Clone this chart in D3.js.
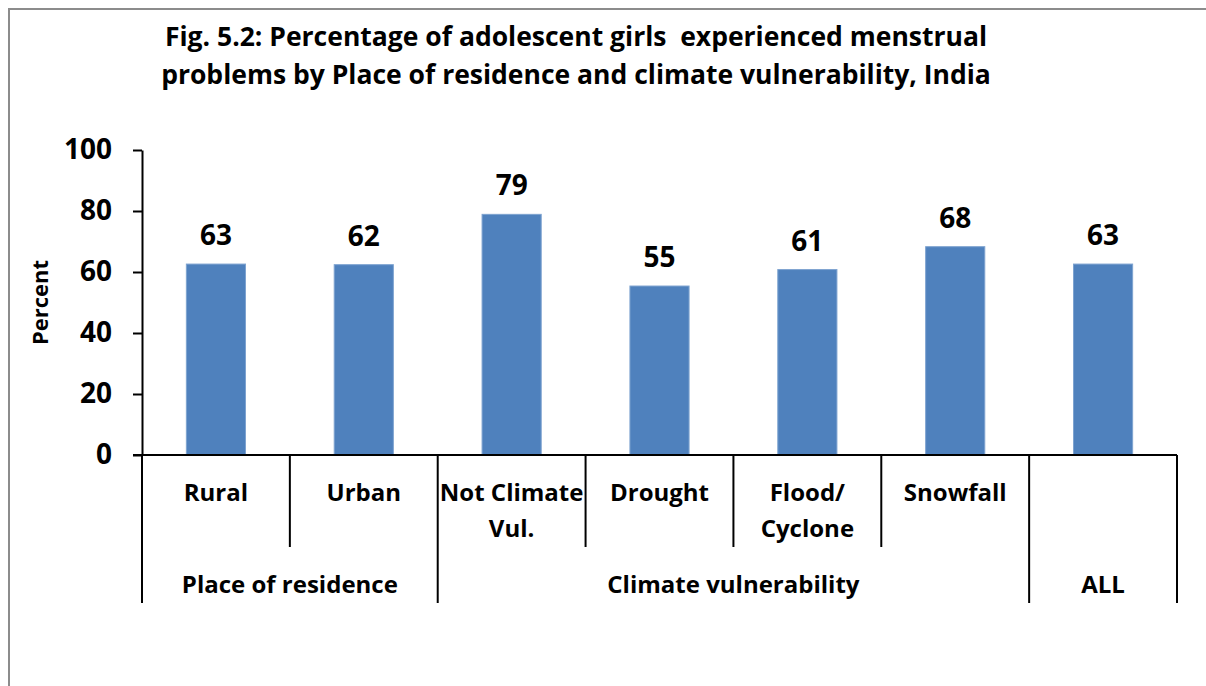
<!DOCTYPE html>
<html>
<head>
<meta charset="utf-8">
<script src="https://cdn.jsdelivr.net/npm/d3@7"></script>
<style>
  body { margin: 0; background: #fff; }
  svg text { font-family: 'Open Sans', sans-serif; font-weight: 700; fill: #000; }
</style>
</head>
<body>
<svg id="chart" width="1206" height="686"></svg>
<script>
const categories = ['Rural', 'Urban', 'Not Climate|Vul.', 'Drought', 'Flood/|Cyclone', 'Snowfall', ''];
const values = [62.6, 62.4, 78.9, 55.4, 60.8, 68.3, 62.6];
const groups = [
  {name: 'Place of residence', from: 0, to: 1},
  {name: 'Climate vulnerability', from: 2, to: 5},
  {name: 'ALL', from: 6, to: 6},
];
const yTicks = [0, 20, 40, 60, 80, 100];
const titleLines = [
  'Fig. 5.2: Percentage of adolescent girls  experienced menstrual',
  'problems by Place of residence and climate vulnerability, India',
];

const svg = d3.select('#chart');
const margin = {top: 150, left: 142, right: 29, bottom: 231};
const width = +svg.attr('width');
const height = +svg.attr('height');
const chartRight = width - margin.right;
const chartBottom = height - margin.bottom;

// outer frame (chart area border, cut by the picture edge)
svg.append('rect')
  .attr('x', 9).attr('y', 9)
  .attr('width', width + 20).attr('height', height + 20)
  .attr('fill', 'none')
  .attr('stroke', '#8c8c8c')
  .attr('stroke-width', 2);

svg.selectAll('.title')
  .data(titleLines)
  .join('text')
  .attr('class', 'title')
  .attr('x', 576)
  .attr('y', (d, i) => 46 + i * 38)
  .attr('text-anchor', 'middle')
  .attr('font-size', '26.5px')
  .style('white-space', 'pre')
  .text((d) => d);

const xScale = d3.scaleBand()
  .domain(d3.range(categories.length))
  .range([margin.left, chartRight])
  .paddingInner(0.6)
  .paddingOuter(0.3);

const yScale = d3.scaleLinear()
  .domain([0, 100])
  .range([chartBottom, margin.top]);

const yAxis = d3.axisLeft(yScale).tickValues(yTicks).tickSize(9).tickSizeOuter(0);
svg.append('g')
  .attr('transform', `translate(${margin.left},0)`)
  .call(yAxis)
  .call((g) => g.select('.domain').attr('stroke', '#000').attr('stroke-width', 2))
  .call((g) => g.selectAll('.tick line').attr('stroke', '#000').attr('stroke-width', 2))
  .call((g) => g.selectAll('.tick text')
    .attr('x', -30)
    .attr('font-size', '28px')
    .attr('font-family', "'Open Sans', sans-serif")
    .attr('font-weight', 700));

svg.append('text')
  .attr('transform', `translate(48,${(margin.top + chartBottom) / 2}) rotate(-90)`)
  .attr('text-anchor', 'middle')
  .attr('font-size', '22px')
  .text('Percent');

// bars
svg.selectAll('.bar')
  .data(values)
  .join('rect')
  .attr('class', 'bar')
  .attr('x', (d, i) => xScale(i))
  .attr('y', (d) => yScale(d))
  .attr('width', xScale.bandwidth())
  .attr('height', (d) => chartBottom - yScale(d))
  .attr('fill', '#4f81bd')
  .attr('stroke', '#7ea3d0')
  .attr('stroke-width', 1);

svg.selectAll('.val')
  .data(values)
  .join('text')
  .attr('class', 'val')
  .attr('x', (d, i) => xScale(i) + xScale.bandwidth() / 2)
  .attr('y', (d) => yScale(d) - 19)
  .attr('text-anchor', 'middle')
  .attr('font-size', '28px')
  .text((d) => d3.format('.0f')(d));

// x axis with grouped category labels
const step = xScale.step();
const edge = (i) => margin.left + i * step;
const groupEdges = new Set(groups.flatMap((g) => [g.from, g.to + 1]));

const xg = svg.append('g');
xg.append('line')
  .attr('x1', margin.left - 9).attr('x2', chartRight)
  .attr('y1', chartBottom).attr('y2', chartBottom)
  .attr('stroke', '#000').attr('stroke-width', 2);

xg.selectAll('.sep')
  .data(d3.range(categories.length + 1))
  .join('line')
  .attr('class', 'sep')
  .attr('x1', (i) => edge(i)).attr('x2', (i) => edge(i))
  .attr('y1', chartBottom)
  .attr('y2', (i) => chartBottom + (groupEdges.has(i) ? 148 : 92))
  .attr('stroke', '#000').attr('stroke-width', 2);

xg.selectAll('.cat')
  .data(categories)
  .join('text')
  .attr('class', 'cat')
  .attr('x', (d, i) => edge(i) + step / 2)
  .attr('y', chartBottom + 46)
  .attr('text-anchor', 'middle')
  .attr('font-size', '24px')
  .each(function (d) {
    const lines = d.split('|');
    d3.select(this).selectAll('tspan')
      .data(lines)
      .join('tspan')
      .attr('x', d3.select(this).attr('x'))
      .attr('dy', (l, j) => (j ? 36 : 0))
      .text((l) => l);
  });

xg.selectAll('.grp')
  .data(groups)
  .join('text')
  .attr('class', 'grp')
  .attr('x', (g) => (edge(g.from) + edge(g.to + 1)) / 2)
  .attr('y', chartBottom + 138)
  .attr('text-anchor', 'middle')
  .attr('font-size', '24px')
  .text((g) => g.name);
</script>
</body>
</html>
